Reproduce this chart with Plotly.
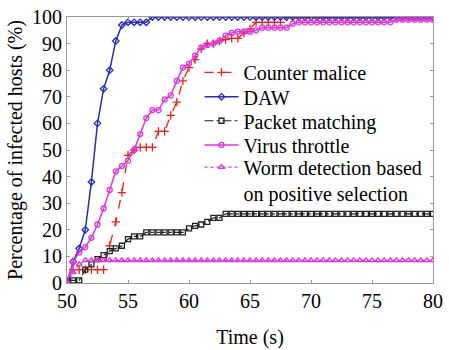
import numpy as np
import plotly.graph_objects as go

time_s = list(np.arange(50, 80.01, 0.5))

counter_malice = [0, 5, 5, 5, 5, 5, 5, 14, 23, 34, 48, 50, 51, 51, 51, 57, 57, 63, 68, 76,
                  81, 84, 88, 90, 90, 91, 91.5, 92, 92, 94, 95.5, 98, 98, 98, 98, 98] + [100] * 25
daw = [0, 8, 13, 20, 38, 60, 73, 80, 91, 97, 98, 98, 98, 98] + [100] * 47
packet_matching = [1, 1, 1, 5, 7, 9, 10.5, 12, 13, 14, 16.5, 17.5, 17.5, 19, 19, 19, 19, 19, 19, 19,
                   20.5, 21.5, 22, 23, 24.5, 24.5, 26] + [26] * 34
virus_throttle = [0, 8, 11.5, 13.5, 17, 22, 28, 35, 42, 44, 46, 50, 56, 62, 65, 65, 69, 70.5, 76, 81,
                  82.5, 85.5, 88.5, 89.5, 90, 91, 93, 94, 94.5, 94.5, 94.5, 95, 96, 96, 96, 96, 96, 97.5] \
                 + [98] * 16 + [99] * 7
worm_detection = [0, 4, 7, 8.5] + [8.5] * 57

x_ticks = [50, 55, 60, 65, 70, 75, 80]
y_ticks = [0, 10, 20, 30, 40, 50, 60, 70, 80, 90, 100]

FONT = "Liberation Serif, serif"
TXT = dict(family=FONT, size=20, color="black")
fig = go.Figure()

fig.add_trace(go.Scatter(x=time_s, y=counter_malice, name="Counter malice", mode="lines+markers",
                         legend="legend",
                         line=dict(color="#e8201c", width=1.3, dash="dash"),
                         marker=dict(symbol="cross-thin-open", size=6, line=dict(color="#e8201c", width=1.3))))
fig.add_trace(go.Scatter(x=time_s, y=daw, name="DAW", mode="lines+markers", legend="legend2",
                         line=dict(color="#2a2ab8", width=1.5),
                         marker=dict(symbol="diamond-open", size=5, color="#2a2ab8", line=dict(width=1.3))))
fig.add_trace(go.Scatter(x=time_s, y=packet_matching, name="Packet matching", mode="lines+markers",
                         legend="legend3",
                         line=dict(color="#222222", width=1.2, dash="dashdot"),
                         marker=dict(symbol="square-open", size=5, color="#222222", line=dict(width=1.3))))
fig.add_trace(go.Scatter(x=time_s, y=virus_throttle, name="Virus throttle", mode="lines+markers",
                         legend="legend4",
                         line=dict(color="#dd33dd", width=1.5),
                         marker=dict(symbol="circle-open", size=5, color="#dd33dd", line=dict(width=1.3))))
fig.add_trace(go.Scatter(x=time_s, y=worm_detection, name="Worm detection based<br>on positive selection",
                         mode="lines+markers", legend="legend5",
                         line=dict(color="#e030e0", width=1.3, dash="dot"),
                         marker=dict(symbol="triangle-up-open", size=5, color="#e030e0", line=dict(width=1.3))))

axis_common = dict(showgrid=False, zeroline=False, showline=True, linecolor="#999999", linewidth=1,
                   mirror="ticks", ticks="inside", ticklen=3, tickcolor="#999999",
                   ticklabeloverflow="allow", tickfont=TXT)

fig.update_xaxes(range=[50, 80], tickvals=x_ticks, ticktext=[str(v) for v in x_ticks],
                 title=dict(text="Time (s)", font=TXT, standoff=18),
                 **axis_common)
fig.update_yaxes(range=[0, 100], tickvals=y_ticks, ticktext=[str(v) for v in y_ticks],
                 title=dict(text="Percentage of infected hosts (%)", font=TXT, standoff=4),
                 **axis_common)

def leg(y, valign="middle"):
    return dict(x=0.362, y=y, xanchor="left", yanchor="middle", bgcolor="rgba(0,0,0,0)",
                font=TXT, itemwidth=34, valign=valign)

fig.update_layout(
    width=449, height=350,
    margin=dict(l=67, r=6, t=15, b=65),
    plot_bgcolor="white", paper_bgcolor="white",
    showlegend=True,
    font=TXT,
    legend=leg(0.792), legend2=leg(0.700), legend3=leg(0.610), legend4=leg(0.519),
    legend5=leg(0.387, "top"),
)

fig.write_html("out.html")
